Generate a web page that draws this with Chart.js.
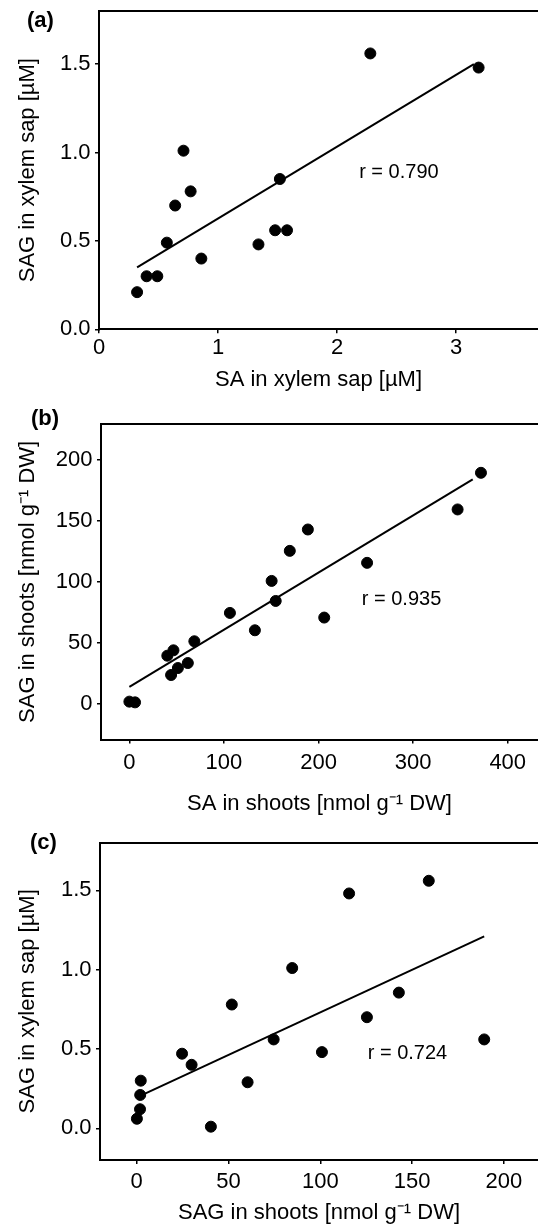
<!DOCTYPE html>
<html>
<head>
<meta charset="utf-8">
<script src="https://cdn.jsdelivr.net/npm/chart.js@4/dist/chart.umd.min.js"></script>
<style>
  html, body { margin: 0; padding: 0; background: #fff; }
  #wrap { position: relative; width: 538px; height: 1224px; overflow: hidden; }
  canvas { position: absolute; left: 0; }
</style>
</head>
<body>
<div id="wrap">
  <canvas id="cA" width="538" height="400" style="top:0px"></canvas>
  <canvas id="cB" width="538" height="420" style="top:400px"></canvas>
  <canvas id="cC" width="538" height="404" style="top:820px"></canvas>
</div>
<script>
// ---------- Panel (a): SA vs SAG in xylem sap ----------
const aSAxylem  = [0.32, 0.40, 0.49, 0.57, 0.64, 0.71, 0.77, 0.86, 1.34, 1.48, 1.58, 1.52, 2.28, 3.19];
const aSAGxylem = [0.21, 0.30, 0.30, 0.49, 0.70, 1.01, 0.78, 0.40, 0.48, 0.56, 0.56, 0.85, 1.56, 1.48];
const aFitX = [0.32, 3.15];
const aFitY = [0.35, 1.50];
const aXTicks = [0, 1, 2, 3];
const aYTicks = [0.0, 0.5, 1.0, 1.5];
const aR = 'r = 0.790';
const aRPos = [2.52, 0.886];

// ---------- Panel (b): SA vs SAG in shoots ----------
const bSAshoots  = [0, 6, 40.1, 46.6, 44.1, 51.3, 61.8, 68.7, 106.3, 132.7, 150.4, 154.7, 169.6, 188.7, 206, 251.3, 347, 371.7];
const bSAGshoots = [2.0, 1.4, 39.6, 44, 23.8, 29.5, 33.6, 51.4, 74.6, 60.4, 100.8, 84.4, 125.4, 142.9, 70.8, 115.6, 159.3, 189.3];
const bFitX = [0, 363];
const bFitY = [14, 184];
const bXTicks = [0, 100, 200, 300, 400];
const bYTicks = [0, 50, 100, 150, 200];
const bR = 'r = 0.935';
const bRPos = [287.7, 85.6];

// ---------- Panel (c): SAG in shoots vs SAG in xylem sap ----------
const cSAGshoots = [2.2, 1.9, 1.8, 0.1, 24.7, 29.9, 40.4, 51.8, 60.4, 74.6, 84.7, 100.9, 115.7, 125.4, 142.8, 159.1, 189.3];
const cSAGxylem  = [0.30, 0.21, 0.12, 0.06, 0.47, 0.40, 0.01, 0.78, 0.29, 0.56, 1.01, 0.48, 1.48, 0.70, 0.855, 1.56, 0.56];
const cFitX = [1, 189.3];
const cFitY = [0.20, 1.21];
const cXTicks = [0, 50, 100, 150, 200];
const cYTicks = [0.0, 0.5, 1.0, 1.5];
const cR = 'r = 0.724';
const cRPos = [147.5, 0.469];

const FONT = '"Liberation Sans", Arial, Helvetica, sans-serif';

const textPlugin = {
  id: 'panelText',
  afterDatasetsDraw(chart, args, opts) {
    const ctx = chart.ctx;
    ctx.save();
    ctx.fillStyle = '#000';
    ctx.font = '20px ' + FONT;
    ctx.textAlign = 'center';
    ctx.textBaseline = 'middle';
    ctx.fillText(opts.rText, chart.scales.x.getPixelForValue(opts.rPos[0]), chart.scales.y.getPixelForValue(opts.rPos[1]));
    ctx.font = 'bold 22px ' + FONT;
    ctx.textAlign = 'left';
    ctx.fillText(opts.letter, opts.letterX, opts.letterY);
    ctx.restore();
  }
};

function pts(xs, ys) { return xs.map((x, i) => ({x: x, y: ys[i]})); }

function noPad(s) { s.paddingLeft = 0; s.paddingRight = 0; s.paddingTop = 0; s.paddingBottom = 0; }

function makePanel(id, p) {
  const tickFont = {family: FONT, size: 22, lineHeight: 1};
  const titleFont = {family: FONT, size: 22, lineHeight: 1};
  new Chart(document.getElementById(id), {
    type: 'scatter',
    data: {
      datasets: [
        {
          data: pts(p.xs, p.ys),
          backgroundColor: '#000', borderColor: '#000',
          pointRadius: 5.5, pointBorderWidth: 1, pointHoverRadius: 5.5,
          order: 0
        },
        {
          data: pts(p.fx, p.fy),
          showLine: true, borderColor: '#000', borderWidth: 2,
          pointRadius: 0, pointHoverRadius: 0, fill: false,
          order: 1
        }
      ]
    },
    options: {
      responsive: false, animation: false, devicePixelRatio: 1,
      layout: {padding: 0, autoPadding: false},
      plugins: {
        legend: {display: false}, tooltip: {enabled: false}, title: {display: false},
        panelText: {rText: p.rText, rPos: p.rPos, letter: p.letter, letterX: p.letterX, letterY: p.letterY}
      },
      scales: {
        x: {
          type: 'linear', position: 'bottom', min: p.xMin, max: p.xMax,
          afterBuildTicks: s => { s.ticks = p.xTicks.map(v => ({value: v})); },
          afterFit: s => { s.height = p.xAxisH; noPad(s); },
          ticks: {color: '#000', font: tickFont, padding: p.xTickPad, maxRotation: 0, autoSkip: false,
                  callback: v => String(v)},
          grid: {display: true, drawOnChartArea: false, drawTicks: true, tickLength: 4, color: '#000', lineWidth: 1.5},
          border: {display: true, color: '#000', width: 2},
          title: {display: true, text: p.xTitle, color: '#000', font: titleFont, padding: {top: 0, bottom: p.xTitlePad}}
        },
        x2: {
          type: 'linear', position: 'top', min: p.xMin, max: p.xMax,
          afterFit: s => { s.height = p.topH; noPad(s); },
          ticks: {display: false},
          grid: {display: false},
          border: {display: true, color: '#000', width: 2}
        },
        y: {
          type: 'linear', position: 'left', min: p.yMin, max: p.yMax,
          afterBuildTicks: s => { s.ticks = p.yTicks.map(v => ({value: v})); },
          afterFit: s => { s.width = p.leftW; noPad(s); },
          ticks: {color: '#000', font: tickFont, padding: 4.5, autoSkip: false,
                  callback: v => v.toFixed(p.yDec)},
          grid: {display: true, drawOnChartArea: false, drawTicks: true, tickLength: 4, color: '#000', lineWidth: 1.5},
          border: {display: true, color: '#000', width: 2},
          title: {display: true, text: p.yTitle, color: '#000', font: titleFont, padding: {top: 17, bottom: 0}}
        }
      }
    },
    plugins: [textPlugin]
  });
}

makePanel('cA', {
  xs: aSAxylem, ys: aSAGxylem, fx: aFitX, fy: aFitY,
  xTicks: aXTicks, yTicks: aYTicks, yDec: 1,
  xMin: 0, xMax: 3.689, yMin: 0, yMax: 1.8,
  xTitle: 'SA in xylem sap [µM]', yTitle: 'SAG in xylem sap [µM]',
  rText: aR, rPos: aRPos, letter: '(a)', letterX: 27, letterY: 21,
  leftW: 99, topH: 11, xAxisH: 70.7, xTickPad: 4, xTitlePad: 9
});

makePanel('cB', {
  xs: bSAshoots, ys: bSAGshoots, fx: bFitX, fy: bFitY,
  xTicks: bXTicks, yTicks: bYTicks, yDec: 0,
  xMin: -30, xMax: 432, yMin: -29, yMax: 229,
  xTitle: 'SA in shoots [nmol g⁻¹ DW]', yTitle: 'SAG in shoots [nmol g⁻¹ DW]',
  rText: bR, rPos: bRPos, letter: '(b)', letterX: 31, letterY: 19,
  leftW: 101, topH: 24.3, xAxisH: 80.5, xTickPad: 8.8, xTitlePad: 5
});

makePanel('cC', {
  xs: cSAGshoots, ys: cSAGxylem, fx: cFitX, fy: cFitY,
  xTicks: cXTicks, yTicks: cYTicks, yDec: 1,
  xMin: -20, xMax: 218.6, yMin: -0.2, yMax: 1.8,
  xTitle: 'SAG in shoots [nmol g⁻¹ DW]', yTitle: 'SAG in xylem sap [µM]',
  rText: cR, rPos: cRPos, letter: '(c)', letterX: 30, letterY: 23,
  leftW: 100, topH: 22.7, xAxisH: 64, xTickPad: 6.7, xTitlePad: 0
});
</script>
</body>
</html>
